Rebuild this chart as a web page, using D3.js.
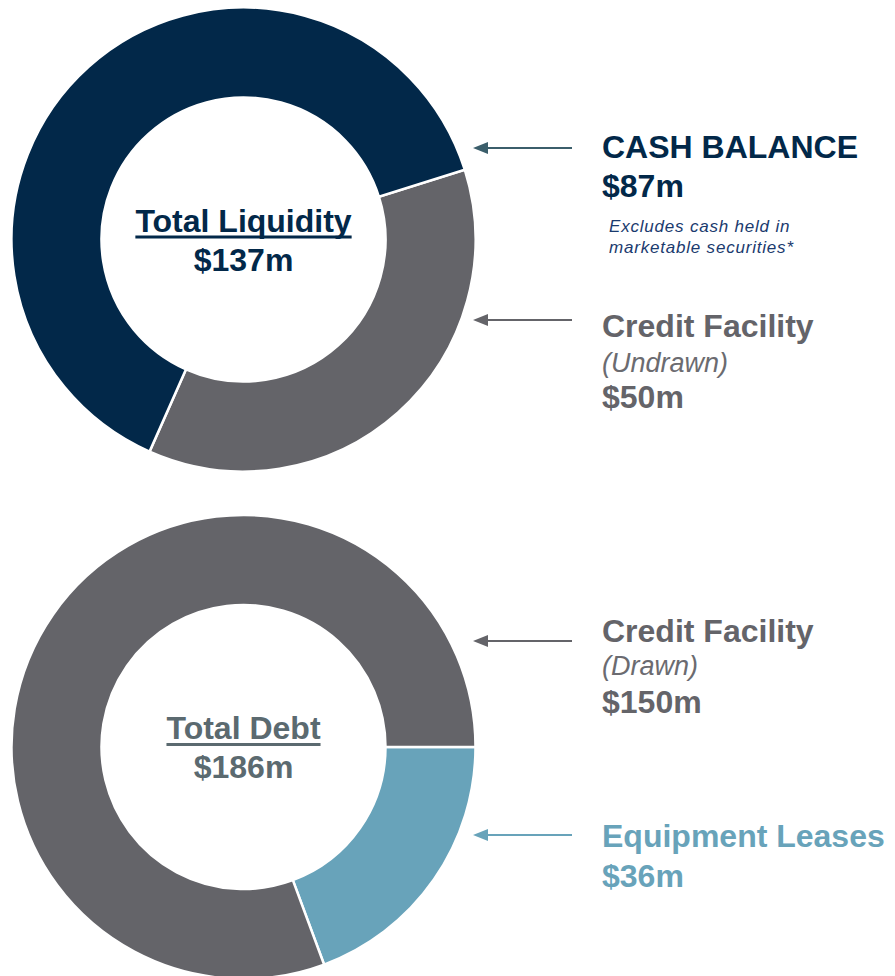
<!DOCTYPE html>
<html>
<head>
<meta charset="utf-8">
<script src="https://cdn.jsdelivr.net/npm/d3@7"></script>
<style>
  body { margin: 0; background: #fff; }
  svg { display: block; font-family: "Liberation Sans", Arial, sans-serif; }
</style>
</head>
<body>
<div id="chart"></div>
<script>
// data
const liquidityLabels = ["Credit Facility (Undrawn)", "Cash Balance"];
const liquidityValues = [50, 87];
const liquidityColors = ["#646469", "#022849"];
const liquidityTotal = "$137m";

const debtLabels = ["Equipment Leases", "Credit Facility (Drawn)"];
const debtValues = [36, 150];
const debtColors = ["#68a3ba", "#646469"];
const debtTotal = "$186m";

const width = 895, height = 976;
const outerR = 232, innerR = 142;

const svg = d3.select("#chart").append("svg")
  .attr("width", width)
  .attr("height", height);

const arc = d3.arc().innerRadius(innerR).outerRadius(outerR);

// draws one donut with its centre title
function donut(cx, cy, labels, values, colors, startDeg, title, total, titleColor) {
  const start = startDeg * Math.PI / 180;
  const pie = d3.pie().sort(null).startAngle(start).endAngle(start + 2 * Math.PI);
  const g = svg.append("g").attr("transform", `translate(${cx},${cy})`);

  g.selectAll("path")
    .data(pie(values))
    .join("path")
      .attr("d", arc)
      .attr("fill", (d, i) => colors[i])
      .attr("stroke", "#fff")
      .attr("stroke-width", 2.5);

  const t = g.append("text")
    .attr("text-anchor", "middle")
    .attr("y", -8)
    .attr("font-size", 32)
    .attr("font-weight", "bold")
    .attr("fill", titleColor)
    .text(title);
  // underline
  const w = t.node().getComputedTextLength();
  g.append("rect")
    .attr("x", -w / 2)
    .attr("y", -4)
    .attr("width", w)
    .attr("height", 3)
    .attr("fill", titleColor);

  g.append("text")
    .attr("text-anchor", "middle")
    .attr("y", 31)
    .attr("font-size", 32)
    .attr("font-weight", "bold")
    .attr("fill", titleColor)
    .text(total);
}

donut(243.5, 239.5, liquidityLabels, liquidityValues, liquidityColors, 72.5, "Total Liquidity", liquidityTotal, "#022849");
donut(243.5, 747, debtLabels, debtValues, debtColors, 90, "Total Debt", debtTotal, "#5b6a70");

// arrows pointing at the slices
function arrow(y, color) {
  svg.append("line")
    .attr("x1", 484).attr("x2", 572)
    .attr("y1", y).attr("y2", y)
    .attr("stroke", color)
    .attr("stroke-width", 2.2);
  svg.append("path")
    .attr("d", `M473,${y} L488,${y - 6} L488,${y + 6} Z`)
    .attr("fill", color);
}

arrow(148, "#3b5e6b");
arrow(320, "#646469");
arrow(641, "#646469");
arrow(835, "#68a3ba");

// side labels
function label(x, y, str, size, color, opts = {}) {
  svg.append("text")
    .attr("x", x).attr("y", y)
    .attr("font-size", size)
    .attr("font-weight", opts.bold ? "bold" : "normal")
    .attr("font-style", opts.italic ? "italic" : "normal")
    .attr("letter-spacing", opts.spacing || 0)
    .attr("fill", color)
    .text(str);
}

label(602, 158, "CASH BALANCE", 32, "#022849", { bold: true });
label(602, 197, "$" + liquidityValues[1] + "m", 32, "#022849", { bold: true });
label(609, 232, "Excludes cash held in", 17, "#1a3a6e", { italic: true, spacing: 0.8 });
label(609, 253, "marketable securities*", 17, "#1a3a6e", { italic: true, spacing: 0.8 });

label(602, 337, "Credit Facility", 32, "#646469", { bold: true });
label(602, 372, "(Undrawn)", 27, "#6b6b70", { italic: true });
label(602, 408, "$" + liquidityValues[0] + "m", 32, "#646469", { bold: true });

label(602, 642, "Credit Facility", 32, "#646469", { bold: true });
label(602, 675, "(Drawn)", 27, "#6b6b70", { italic: true });
label(602, 713, "$" + debtValues[1] + "m", 32, "#646469", { bold: true });

label(602, 847, "Equipment Leases", 32, "#68a3ba", { bold: true });
label(602, 887, "$" + debtValues[0] + "m", 32, "#68a3ba", { bold: true });
</script>
</body>
</html>
